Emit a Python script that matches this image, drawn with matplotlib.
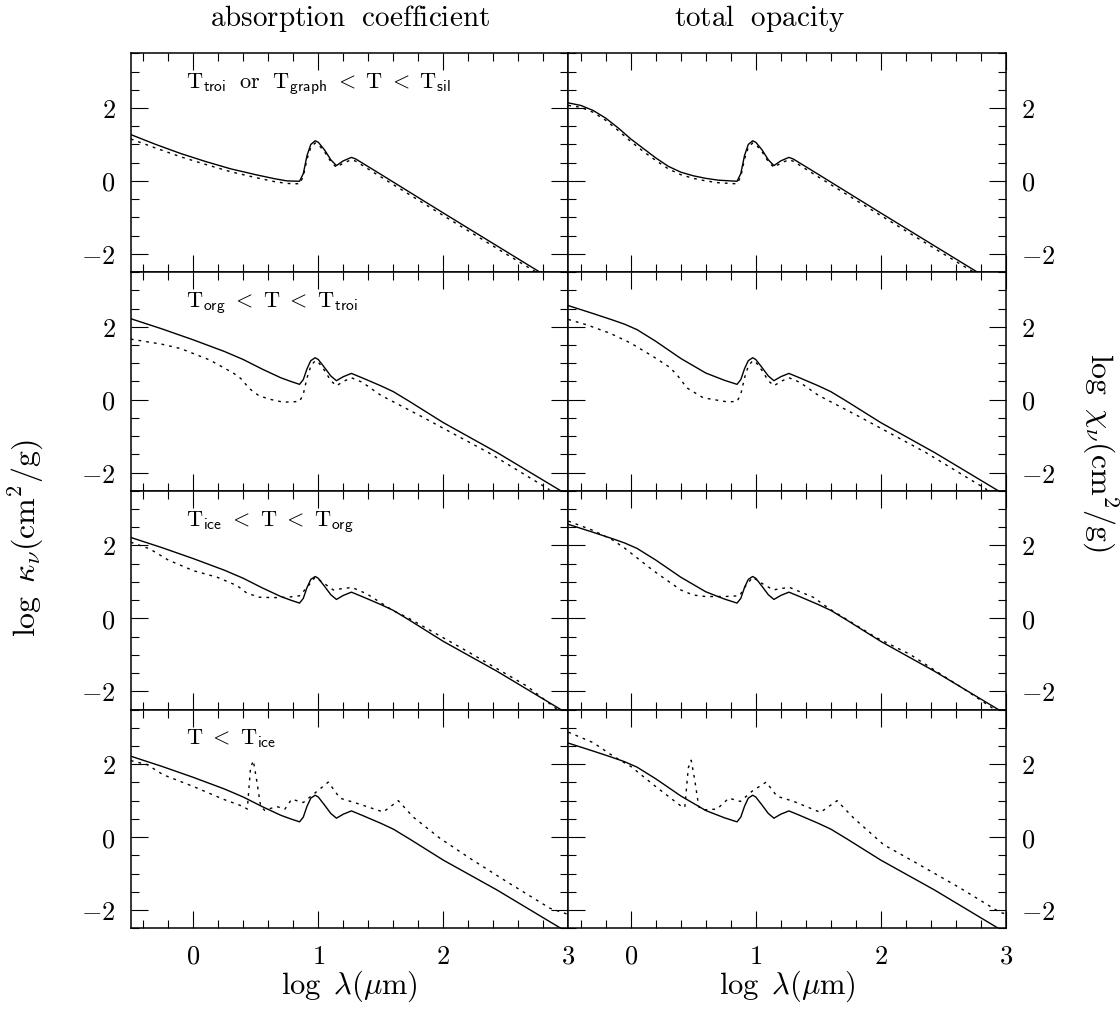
import matplotlib
matplotlib.use("Agg")
import matplotlib.pyplot as plt
from matplotlib.ticker import MultipleLocator, FixedLocator, FuncFormatter

plt.rcParams["mathtext.fontset"] = "cm"
plt.rcParams["font.family"] = ["DejaVu Serif"]

# ---------------------------------------------------------------- data
# log lambda (micron) grids and log opacities (cm^2/g)

# hot regime: T_troi or T_graph < T < T_sil
abs_hot_x = [-0.5, -0.3, -0.1, 0.1, 0.3, 0.5, 0.65, 0.75, 0.85, 0.88, 0.91, 0.94,
             0.975, 1.0, 1.05, 1.1, 1.145, 1.2, 1.265, 1.3, 1.5, 2.0, 2.5, 2.8]
abs_hot_solid = [1.27, 1.0, 0.75, 0.53, 0.33, 0.17, 0.06, 0.0, -0.01, 0.2, 0.7, 1.0,
                 1.1, 1.06, 0.85, 0.58, 0.42, 0.55, 0.645, 0.6, 0.18, -0.88, -1.93, -2.56]
abs_hot_dot = [1.15, 0.9, 0.66, 0.45, 0.25, 0.09, -0.02, -0.07, -0.08, 0.12, 0.6, 0.92,
               1.04, 1.0, 0.8, 0.53, 0.37, 0.49, 0.58, 0.54, 0.11, -0.95, -2.0, -2.62]

tot_hot_x = [-0.5, -0.4, -0.3, -0.2, -0.1, 0.0, 0.1, 0.2, 0.3, 0.4, 0.5, 0.6, 0.7, 0.85,
             0.88, 0.91, 0.94, 0.975, 1.0, 1.05, 1.1, 1.145, 1.2, 1.265, 1.3, 1.5, 2.0,
             2.5, 2.8]
tot_hot_solid = [2.14, 2.07, 1.93, 1.72, 1.45, 1.15, 0.89, 0.63, 0.4, 0.24, 0.14, 0.07,
                 0.02, -0.01, 0.2, 0.7, 1.0, 1.1, 1.06, 0.85, 0.58, 0.42, 0.55, 0.645,
                 0.6, 0.18, -0.88, -1.93, -2.56]
tot_hot_dot = [2.07, 2.02, 1.88, 1.66, 1.38, 1.08, 0.81, 0.56, 0.33, 0.17, 0.07, 0.0,
               -0.05, -0.08, 0.12, 0.6, 0.92, 1.04, 1.0, 0.8, 0.53, 0.37, 0.49, 0.58,
               0.54, 0.11, -0.95, -2.0, -2.62]

# reference composition (solid curves of the three cooler regimes)
abs_ref_x = [-0.5, -0.25, 0.0, 0.25, 0.4, 0.55, 0.7, 0.78, 0.85, 0.88, 0.91, 0.94,
             0.975, 1.0, 1.05, 1.1, 1.145, 1.2, 1.265, 1.35, 1.5, 1.6, 1.73, 2.0,
             2.43, 2.95]
abs_ref = [2.22, 1.94, 1.64, 1.32, 1.1, 0.84, 0.6, 0.5, 0.42, 0.55, 0.85, 1.07,
           1.15, 1.1, 0.88, 0.65, 0.52, 0.63, 0.72, 0.6, 0.38, 0.22, -0.05, -0.63,
           -1.45, -2.52]

tot_ref_x = [-0.5, -0.3, -0.15, -0.05, 0.05, 0.2, 0.4, 0.6, 0.75, 0.85, 0.88, 0.91,
             0.94, 0.975, 1.0, 1.05, 1.1, 1.145, 1.2, 1.265, 1.35, 1.5, 1.6, 1.73,
             2.0, 2.43, 2.95]
tot_ref = [2.58, 2.36, 2.19, 2.07, 1.92, 1.6, 1.13, 0.73, 0.53, 0.42, 0.55, 0.85,
           1.07, 1.15, 1.1, 0.88, 0.65, 0.52, 0.63, 0.72, 0.6, 0.38, 0.22, -0.05,
           -0.63, -1.45, -2.52]

# T_org < T < T_troi
abs_org_x = [-0.5, -0.25, -0.1, 0.13, 0.32, 0.38, 0.45, 0.52, 0.6, 0.72, 0.85, 0.88,
             0.91, 0.94, 0.975, 1.0, 1.05, 1.1, 1.145, 1.2, 1.265, 1.35, 1.5, 1.83,
             2.1, 2.36, 2.85]
abs_org = [1.66, 1.52, 1.4, 1.09, 0.73, 0.58, 0.3, 0.12, 0.02, -0.07, -0.05, 0.15,
           0.6, 0.92, 1.07, 1.03, 0.8, 0.52, 0.38, 0.5, 0.6, 0.48, 0.12, -0.47,
           -0.97, -1.45, -2.47]

tot_org_x = [-0.5, -0.35, -0.165, 0.0, 0.18, 0.31, 0.37, 0.45, 0.58, 0.77, 0.85,
             0.88, 0.91, 0.94, 0.975, 1.0, 1.05, 1.1, 1.145, 1.2, 1.265, 1.35, 1.5,
             1.83, 2.1, 2.36, 2.85]
tot_org = [2.2, 2.05, 1.82, 1.55, 1.18, 0.89, 0.68, 0.32, 0.05, -0.06, -0.05, 0.15,
           0.6, 0.92, 1.07, 1.03, 0.8, 0.52, 0.38, 0.5, 0.6, 0.48, 0.12, -0.47, -0.97,
           -1.45, -2.47]

# T_ice < T < T_org
abs_ice_x = [-0.5, -0.35, -0.2, 0.0, 0.19, 0.35, 0.43, 0.53, 0.65, 0.75, 0.85, 0.91,
             0.975, 1.03, 1.12, 1.2, 1.27, 1.39, 1.6, 1.71, 2.19, 2.67, 2.92]
abs_ice = [2.09, 1.91, 1.6, 1.31, 1.13, 0.9, 0.69, 0.58, 0.57, 0.58, 0.62, 0.85,
           1.13, 1.0, 0.78, 0.82, 0.85, 0.67, 0.21, 0.03, -0.9, -1.86, -2.52]

tot_ice_x = [-0.5, -0.3, -0.15, -0.05, 0.05, 0.18, 0.3, 0.4, 0.5, 0.6, 0.75, 0.87,
             0.91, 0.975, 1.03, 1.14, 1.2, 1.27, 1.46, 1.59, 1.96, 2.23, 2.68, 2.92]
tot_ice = [2.67, 2.41, 2.16, 1.93, 1.66, 1.31, 1.02, 0.78, 0.64, 0.6, 0.6, 0.62,
           0.85, 1.13, 1.0, 0.78, 0.82, 0.85, 0.58, 0.26, -0.52, -0.98, -1.97, -2.52]

# T < T_ice
abs_cold_x = [-0.5, -0.37, -0.24, 0.0, 0.24, 0.4, 0.432, 0.458, 0.48, 0.505, 0.539,
              0.573, 0.62, 0.667, 0.733, 0.787, 0.88, 0.987, 1.08, 1.173, 1.307, 1.52,
              1.64, 1.76, 1.973, 2.213, 2.507, 2.853, 3.0]
abs_cold = [2.1, 1.99, 1.71, 1.39, 1.04, 0.84, 0.77, 1.9, 2.1, 1.6, 0.84, 0.73, 0.79,
            0.84, 0.77, 1.04, 0.95, 1.25, 1.51, 1.07, 0.93, 0.69, 1.0, 0.55, -0.03,
            -0.58, -1.22, -1.95, -2.12]

tot_cold_x = [-0.5, -0.3, -0.14, 0.0, 0.18, 0.41, 0.432, 0.46, 0.483, 0.51, 0.544,
              0.584, 0.69, 0.784, 0.877, 0.97, 1.083, 1.17, 1.304, 1.517, 1.65, 1.784,
              2.024, 2.29, 2.637, 2.957, 3.0]
tot_cold = [2.88, 2.59, 2.22, 1.94, 1.44, 0.83, 0.82, 1.9, 2.11, 1.6, 0.83, 0.75,
            0.77, 1.07, 0.98, 1.26, 1.51, 1.12, 0.98, 0.68, 1.0, 0.52, -0.21, -0.72,
            -1.4, -2.07, -2.1]

regime_labels = [
    r"$\mathrm{T}_{\mathsf{troi}}\ \ \mathrm{or}\ \ \mathrm{T}_{\mathsf{graph}}\ <\ \mathrm{T}\ <\ \mathrm{T}_{\mathsf{sil}}$",
    r"$\mathrm{T}_{\mathsf{org}}\ <\ \mathrm{T}\ <\ \mathrm{T}_{\mathsf{troi}}$",
    r"$\mathrm{T}_{\mathsf{ice}}\ <\ \mathrm{T}\ <\ \mathrm{T}_{\mathsf{org}}$",
    r"$\mathrm{T}\ <\ \mathrm{T}_{\mathsf{ice}}$",
]

absorption_panels = [
    ((abs_hot_x, abs_hot_solid), (abs_hot_x, abs_hot_dot)),
    ((abs_ref_x, abs_ref), (abs_org_x, abs_org)),
    ((abs_ref_x, abs_ref), (abs_ice_x, abs_ice)),
    ((abs_ref_x, abs_ref), (abs_cold_x, abs_cold)),
]
total_panels = [
    ((tot_hot_x, tot_hot_solid), (tot_hot_x, tot_hot_dot)),
    ((tot_ref_x, tot_ref), (tot_org_x, tot_org)),
    ((tot_ref_x, tot_ref), (tot_ice_x, tot_ice)),
    ((tot_ref_x, tot_ref), (tot_cold_x, tot_cold)),
]

# ---------------------------------------------------------------- layout
W, H = 1120, 1011
fig = plt.figure(figsize=(W / 100, H / 100), dpi=100)
x_left, panel_w = 130.8, 437.5
y_top, panel_h = 53.3, 218.75

tick_fmt = FuncFormatter(lambda v, p: r"$%d$" % round(v))

for r in range(4):
    for c, panels in enumerate([absorption_panels, total_panels]):
        left = (x_left + c * panel_w) / W
        bottom = 1 - (y_top + (r + 1) * panel_h) / H
        ax = fig.add_axes([left, bottom, panel_w / W, panel_h / H])
        (xs, ys), (xd, yd) = panels[r]
        ax.plot(xs, ys, color="black", lw=1.0, solid_joinstyle="round")
        ax.plot(xd, yd, color="black", lw=1.0, linestyle=(0, (2.0, 3.6)))
        ax.set_xlim(-0.5, 3.0)
        ax.set_ylim(-2.5, 3.5)
        ax.xaxis.set_major_locator(FixedLocator([0, 1, 2, 3]))
        ax.xaxis.set_minor_locator(MultipleLocator(0.2))
        ax.yaxis.set_major_locator(FixedLocator([-2, 0, 2]))
        ax.yaxis.set_minor_locator(MultipleLocator(0.5))
        ax.xaxis.set_major_formatter(tick_fmt)
        ax.yaxis.set_major_formatter(tick_fmt)
        ax.tick_params(which="both", direction="in", top=True, bottom=True,
                       left=True, right=True, width=0.8, labelsize=19,
                       labelleft=(c == 0), labelright=(c == 1),
                       labelbottom=(r == 3), pad=11)
        ax.tick_params(which="major", length=12)
        ax.tick_params(which="minor", length=6)
        for sp in ax.spines.values():
            sp.set_linewidth(1.1)
        if c == 0:
            ax.text(0.126, 0.84, regime_labels[r], transform=ax.transAxes,
                    fontsize=16, ha="left", va="baseline")

# column titles and axis labels
fig.text((x_left + panel_w / 2) / W, 1 - 18 / H,
         r"$\mathrm{absorption\ \ coefficient}$", ha="center", va="center",
         fontsize=21)
fig.text(760 / W, 1 - 18 / H, r"$\mathrm{total\ \ opacity}$", ha="center",
         va="center", fontsize=21)
fig.text((x_left + panel_w / 2) / W, 1 - 986 / H,
         r"$\log\ \lambda(\mu\mathrm{m})$", ha="center", va="center", fontsize=22)
fig.text((x_left + 1.5 * panel_w) / W, 1 - 986 / H,
         r"$\log\ \lambda(\mu\mathrm{m})$", ha="center", va="center", fontsize=22)
fig.text(26 / W, 1 - 538 / H, r"$\log\ \kappa_\nu(\mathrm{cm}^2/\mathrm{g})$",
         rotation=90, ha="center", va="center", fontsize=23)
fig.text(1100 / W, 1 - 453 / H, r"$\log\ \chi_\nu(\mathrm{cm}^2/\mathrm{g})$",
         rotation=270, ha="center", va="center", fontsize=23)

fig.savefig("out.png", dpi=100)
